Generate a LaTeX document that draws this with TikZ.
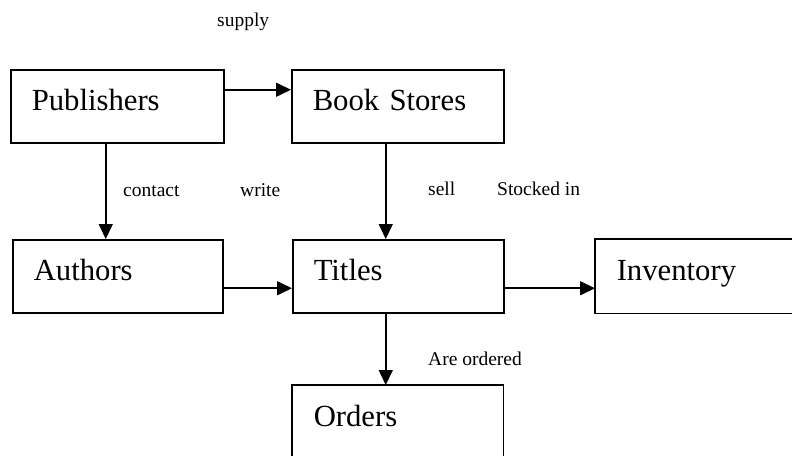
\documentclass[tikz,border=0pt]{standalone}
\usepackage{fontspec}
\setmainfont{Liberation Serif}
\usetikzlibrary{arrows.meta}

\tikzset{
  box/.style={draw, line width=1.5pt, anchor=north west, align=left,
    minimum height=73pt, inner xsep=21pt, inner ysep=0pt,
    text height=21pt, text depth=12pt, text width=#1,
    font=\fontsize{30.7}{36}\selectfont},
  openbox/.style={box=#1, draw=none},
  edge line/.style={line width=1.5pt, line join=miter},
  rel/.style={anchor=base west, inner sep=0pt,
    font=\fontsize{19.5}{22}\selectfont},
  link/.style={line width=1.6pt, -{Triangle[length=15pt,width=14pt]}}
}

\begin{document}
\begin{tikzpicture}[x=1pt, y=-1pt]
  \useasboundingbox (0,0) rectangle (797,455);

  % entity boxes
  \node[box=171pt] (pub)    at (10,69)   {Publishers};
  \node[box=170pt] (book)   at (291,69)  {Book Stores};
  \node[box=168pt] (auth)   at (12,239)  {Authors};
  \node[box=169pt] (titles) at (292,239) {Titles};
  % Orders runs off the bottom edge, Inventory off the right edge:
  % their outlines stay open on that side
  \node[openbox=168pt] (orders) at (292,385) {Orders};
  \draw[edge line] (orders.south west) ++(0,-1pt) -- (orders.north west)
                   -- (orders.north east) -- ++(0,-72pt);
  \node[openbox=153pt] (inv) at (595,239) {Inventory};
  \draw[edge line] (inv.north east) -- (inv.north west)
                   -- (inv.south west) -- (inv.south east);

  % relationship labels
  \node[rel] (lsupply)  at (217,26)  {supply};
  \node[rel] (lcontact) at (123,196) {contact};
  \node[rel] (lwrite)   at (240,196) {write};
  \node[rel] (lsell)    at (428,195) {sell};
  \node[rel] (lstock)   at (497,195) {Stocked in};
  \node[rel] (lorder)   at (428,365) {Are ordered};

  % connectors
  \draw[link] ([yshift=16.5pt]pub.east) -- ([yshift=16.5pt]book.west);
  \draw[link] ([xshift=-11.5pt]pub.south) -- ([xshift=-12pt]auth.north);
  \draw[link] ([xshift=-12pt]book.south) -- ([xshift=-12.5pt]titles.north);
  \draw[link] ([yshift=-12pt]auth.east) -- ([yshift=-12pt]titles.west);
  \draw[link] ([yshift=-12pt]titles.east) -- ([yshift=-12pt]inv.west);
  \draw[link] ([xshift=-12.5pt]titles.south) -- ([xshift=-12pt]orders.north);
\end{tikzpicture}
\end{document}
